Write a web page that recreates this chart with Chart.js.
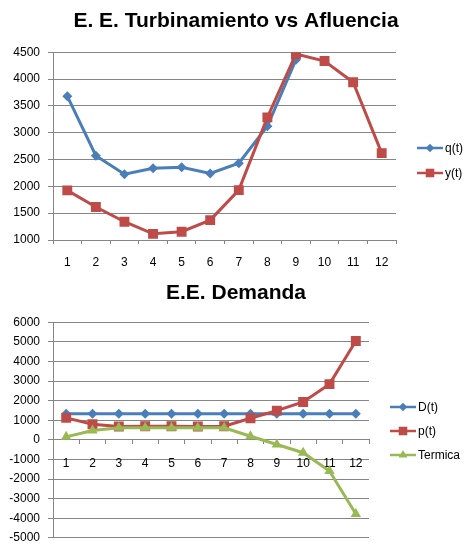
<!DOCTYPE html>
<html>
<head>
<meta charset="utf-8">
<script src="https://cdn.jsdelivr.net/npm/chart.js@4/dist/chart.umd.min.js"></script>
<style>
  html, body { margin: 0; padding: 0; background: #fff; }
  .box { position: absolute; left: 0; width: 472px; }
  #top { top: 0; height: 280px; }
  #bottom { top: 278px; height: 275px; }
</style>
</head>
<body>
<div class="box" id="top"><canvas id="turbChart"></canvas></div>
<div class="box" id="bottom"><canvas id="demChart"></canvas></div>
<script>
// data
const periods = ['1', '2', '3', '4', '5', '6', '7', '8', '9', '10', '11', '12'];
const qValues = [3680, 2570, 2225, 2335, 2355, 2240, 2430, 3120, 4360];
const yValues = [1925, 1615, 1340, 1115, 1155, 1370, 1930, 3285, 4465, 4335, 3940, 2620];
const dValues = [1330, 1330, 1330, 1330, 1330, 1330, 1330, 1330, 1330, 1330, 1330, 1330];
const pValues = [1120, 790, 680, 690, 690, 680, 690, 1100, 1490, 1930, 2840, 5040];
const termValues = [150, 470, 610, 610, 610, 610, 610, 180, -240, -660, -1590, -3790];

const BLUE = '#4a7ebb';
const RED = '#be4b48';
const GREEN = '#98b954';
const GRID = '#868686';
const FONT = "'Liberation Sans', Arial, sans-serif";

Chart.defaults.font.family = FONT;
Chart.defaults.font.size = 12;
Chart.defaults.color = '#000';
Chart.defaults.animation = false;

function marker(ctx, style, x, y, r, color) {
    ctx.fillStyle = color;
    ctx.beginPath();
    if (style === 'rectRot') {
        ctx.moveTo(x - r, y); ctx.lineTo(x, y - r); ctx.lineTo(x + r, y); ctx.lineTo(x, y + r);
    } else if (style === 'rect') {
        ctx.rect(x - r * 0.72, y - r * 0.72, r * 1.44, r * 1.44);
    } else {
        ctx.moveTo(x, y - r); ctx.lineTo(x + r * 0.87, y + r * 0.5); ctx.lineTo(x - r * 0.87, y + r * 0.5);
    }
    ctx.closePath();
    ctx.fill();
}

// legend with line + marker, like the spreadsheet one
const lineLegend = {
    id: 'lineLegend',
    afterDraw(chart, args, opts) {
        const ctx = chart.ctx;
        ctx.save();
        ctx.font = '12px ' + FONT;
        ctx.textBaseline = 'middle';
        chart.data.datasets.forEach((ds, i) => {
            const y = opts.y + i * opts.gap;
            ctx.strokeStyle = ds.borderColor;
            ctx.lineWidth = 2.5;
            ctx.beginPath();
            ctx.moveTo(opts.x, y);
            ctx.lineTo(opts.x + 26, y);
            ctx.stroke();
            marker(ctx, ds.pointStyle, opts.x + 13, y, ds.pointRadius * 0.85, ds.borderColor);
            ctx.fillStyle = '#000';
            ctx.fillText(ds.label, opts.x + 28, y + 1);
        });
        ctx.restore();
    }
};

function series(label, data, color, style, radius, order) {
    return {
        label: label,
        data: data,
        borderColor: color,
        backgroundColor: color,
        borderWidth: 3,
        pointStyle: style,
        pointRadius: radius,
        pointBorderWidth: 0,
        pointHoverRadius: radius,
        tension: 0,
        order: order
    };
}

function yScale(min, max, step) {
    return {
        min: min,
        max: max,
        ticks: { stepSize: step, padding: 8, font: { size: 12 }, callback: v => String(v) },
        grid: { color: GRID, lineWidth: 1, tickLength: 5 },
        border: { color: GRID },
        afterFit: s => { s.width = 53; }
    };
}

// empty right-hand axis that just keeps room for the legend,
// so the title stays centred on the whole picture
function spacer(w) {
    return {
        position: 'right',
        ticks: { display: false },
        grid: { display: false },
        border: { display: false },
        afterFit: s => { s.width = w; }
    };
}

new Chart(document.getElementById('turbChart'), {
    type: 'line',
    data: {
        labels: periods,
        datasets: [
            series('q(t)', qValues, BLUE, 'rectRot', 5, 2),
            series('y(t)', yValues, RED, 'rect', 7, 1)
        ]
    },
    options: {
        responsive: true,
        maintainAspectRatio: false,
        layout: { padding: { left: 0, right: 0, top: 0, bottom: 10 } },
        plugins: {
            legend: { display: false },
            tooltip: { enabled: false },
            title: {
                display: true,
                text: 'E. E. Turbinamiento vs Afluencia',
                color: '#000',
                font: { size: 21, weight: 'bold', lineHeight: 1.2 },
                padding: { top: 9, bottom: 18 }
            },
            lineLegend: { x: 417, y: 148, gap: 25 }
        },
        scales: {
            x: {
                offset: true,
                ticks: { padding: 11, font: { size: 12 } },
                grid: { offset: true, drawOnChartArea: false, color: GRID, tickLength: 4 },
                border: { color: GRID },
                afterFit: s => { s.height = 30; }
            },
            y: yScale(1000, 4500, 500),
            pad: spacer(76)
        }
    },
    plugins: [lineLegend]
});

new Chart(document.getElementById('demChart'), {
    type: 'line',
    data: {
        labels: periods,
        datasets: [
            series('D(t)', dValues, BLUE, 'rectRot', 5, 3),
            series('p(t)', pValues, RED, 'rect', 7, 2),
            series('Termica', termValues, GREEN, 'triangle', 6, 1)
        ]
    },
    options: {
        responsive: true,
        maintainAspectRatio: false,
        layout: { padding: { left: 0, right: 0, top: 0, bottom: 14 } },
        plugins: {
            legend: { display: false },
            tooltip: { enabled: false },
            title: {
                display: true,
                text: 'E.E. Demanda',
                color: '#000',
                font: { size: 21, weight: 'bold', lineHeight: 1.2 },
                padding: { top: 3, bottom: 16 }
            },
            lineLegend: { x: 390, y: 129, gap: 24 }
        },
        scales: {
            x: {
                position: { y: 0 },
                offset: true,
                ticks: { padding: 13, font: { size: 12 } },
                grid: { offset: true, drawOnChartArea: false, color: GRID, tickLength: 4 },
                border: { color: GRID }
            },
            y: yScale(-5000, 6000, 1000),
            pad: spacer(103)
        }
    },
    plugins: [lineLegend]
});
</script>
</body>
</html>
